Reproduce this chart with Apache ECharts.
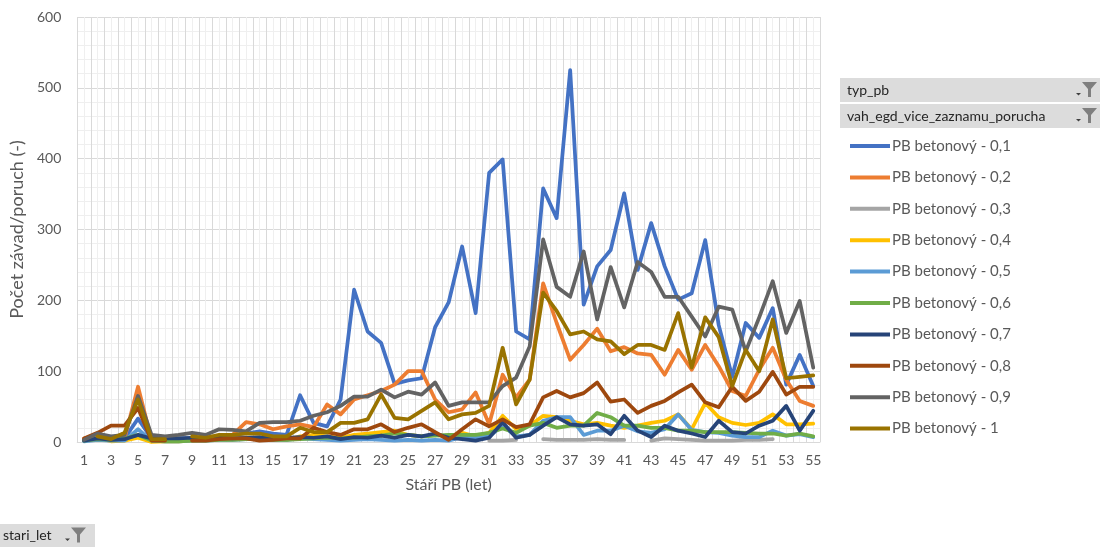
<!DOCTYPE html>
<html>
<head>
<meta charset="utf-8">
<script src="https://cdn.jsdelivr.net/npm/echarts@6/dist/echarts.min.js"></script>
<style>
  html, body { margin: 0; padding: 0; background: #ffffff; }
  #chart { width: 1100px; height: 547px; }
</style>
</head>
<body>
<div id="chart"></div>
<script>
// Stáří PB (let) 1..55
const ages = [];
for (let i = 1; i <= 55; i++) ages.push(String(i));

const seriesNames = [
  'PB betonový - 0,1', 'PB betonový - 0,2', 'PB betonový - 0,3', 'PB betonový - 0,4', 'PB betonový - 0,5',
  'PB betonový - 0,6', 'PB betonový - 0,7', 'PB betonový - 0,8', 'PB betonový - 0,9', 'PB betonový - 1'
];
const seriesColors = ['#4472C4', '#ED7D31', '#A5A5A5', '#FFC000', '#5B9BD5', '#70AD47', '#264478', '#9E480E', '#636363', '#997300'];

const v01 = [3, 8, 5, 5, 33, 5, 4, 5, 5, 6, 8, 10, 12, 15, 12, 10, 66, 27, 22, 60,
  215, 156, 140, 82, 87, 90, 162, 197, 276, 182, 380, 399, 156, 145, 358, 316, 525, 194, 248, 271,
  351, 243, 309, 248, 201, 210, 285, 165, 92, 168, 147, 189, 81, 123, 79];
const v02 = [5, 10, 5, 5, 78, 3, 3, 2, 4, 5, 8, 10, 28, 25, 18, 22, 25, 21, 53, 39,
  60, 66, 72, 81, 100, 100, 60, 42, 46, 70, 25, 95, 63, 88, 224, 168, 116, 137, 160, 128,
  134, 125, 123, 95, 130, 102, 137, 107, 72, 65, 102, 133, 88, 58, 51];
const v03 = [null, null, null, null, null, null, null, null, null, null, null, null, null, null, null, null, null, null, null, null,
  null, null, null, null, null, null, null, null, null, null, 2, 2, 3, null, 4, 3, 3, 3, 4, 3,
  3, null, 2, 5, 4, 3, 2, 2, 2, 3, 3, 4, null, null, null];
const v04 = [2, 6, 1, 2, 6, 0, 1, 1, 2, 3, 4, 5, 5, 6, 4, 3, 8, 10, 8, 6,
  10, 12, 14, 16, 10, 8, 10, 8, 13, 8, 13, 37, 18, 23, 37, 35, 30, 25, 27, 23,
  20, 23, 27, 30, 39, 18, 55, 35, 27, 24, 27, 39, 25, 25, 26];
const v05 = [1, 3, 2, 2, 18, 2, 1, 1, 2, 2, 3, 3, 4, 4, 3, 3, 5, 4, 3, 2,
  3, 4, 3, 2, 3, 2, 3, 2, 7, 6, 8, 23, 8, 10, 30, 35, 35, 10, 16, 16,
  23, 15, 13, 18, 39, 17, 14, 13, 9, 7, 7, 16, 9, 11, 7];
const v06 = [2, 4, 3, 5, 10, 2, 1, 1, 2, 2, 3, 3, 4, 4, 3, 3, 4, 5, 6, 5,
  6, 8, 9, 12, 10, 8, 9, 10, 10, 10, 13, 19, 13, 23, 27, 20, 23, 23, 41, 35,
  23, 23, 20, 20, 16, 16, 14, 14, 14, 13, 12, 12, 9, 12, 8];
const v07 = [2, 5, 3, 4, 10, 5, 5, 5, 6, 5, 6, 5, 6, 7, 5, 6, 7, 6, 8, 4,
  7, 6, 9, 6, 10, 8, 12, 6, 4, 2, 6, 28, 6, 10, 23, 35, 25, 23, 25, 11,
  37, 16, 7, 23, 16, 12, 7, 30, 14, 12, 23, 30, 51, 16, 44];
const v08 = [5, 13, 23, 23, 48, 2, 2, null, 2, 2, 4, 5, 5, 2, 3, 5, 5, 20, 14, 10,
  18, 18, 25, 14, 20, 25, 14, 3, 18, 32, 22, 32, 21, 25, 63, 72, 63, 69, 84, 57,
  60, 41, 51, 58, 70, 81, 56, 49, 78, 58, 71, 99, 67, 78, 78];
const v09 = [3, 12, 8, 10, 65, 10, 8, 10, 13, 10, 18, 17, 15, 27, 28, 28, 30, 37, 42, 51,
  64, 64, 74, 63, 71, 67, 84, 51, 56, 56, 56, 79, 91, 135, 286, 219, 205, 269, 173, 247,
  190, 254, 240, 205, 205, 177, 149, 191, 187, 128, 176, 227, 154, 199, 105];
const v10 = [null, 8, 4, 13, 60, 4, 4, null, 8, 6, 10, 10, 12, 12, 8, 8, 20, 14, 14, 27,
  27, 32, 67, 34, 32, 44, 56, 32, 39, 41, 51, 133, 53, 88, 211, 185, 152, 156, 145, 142,
  124, 137, 137, 130, 182, 105, 176, 148, 79, 130, 100, 173, 90, 92, 94];

const seriesValues = [v01, v02, v03, v04, v05, v06, v07, v08, v09, v10];

const yTicks = { min: 0, max: 600, step: 100 };

const font = 'Lato, "Noto Sans", sans-serif';
const textGrey = '#595959';

// funnel-shaped filter button glyph
function funnel(x, y) {
  return [
    {
      type: 'polygon',
      shape: { points: [[x, y], [x + 15, y], [x + 9, y + 7], [x + 9, y + 15], [x + 6, y + 15], [x + 6, y + 7]] },
      style: { fill: '#7f7f7f' }
    },
    {
      type: 'polygon',
      shape: { points: [[x - 6, y + 11], [x - 1, y + 11], [x - 3.5, y + 13.5]] },
      style: { fill: '#404040' }
    }
  ];
}

function fieldButton(x, y, w, h, label, iconX, textX) {
  return [
    { type: 'rect', shape: { x: x, y: y, width: w, height: h }, style: { fill: '#dcdcdc' } },
    {
      type: 'text', x: textX, y: y + h / 2,
      style: { text: label, font: '14px ' + font, fill: '#262626', verticalAlign: 'middle' }
    }
  ].concat(funnel(iconX, y + h / 2 - 8));
}

const chart = echarts.init(document.getElementById('chart'), null, { renderer: 'canvas' });

const option = {
  animation: false,
  backgroundColor: '#ffffff',
  grid: { left: 75, right: 280, top: 17, bottom: 105, containLabel: false },
  legend: {
    orient: 'vertical',
    left: 845,
    top: 133,
    itemWidth: 40,
    itemHeight: 4,
    itemGap: 15.4,
    icon: 'rect',
    data: seriesNames,
    textStyle: { color: textGrey, fontFamily: font, fontSize: 15, lineHeight: 16, padding: [0, 0, 0, -3] }
  },
  xAxis: [
    {
      type: 'category',
      data: ages,
      boundaryGap: true,
      axisLine: { show: true, lineStyle: { color: '#d9d9d9', width: 1 } },
      axisTick: { show: false },
      axisLabel: { interval: 1, color: textGrey, fontFamily: font, fontSize: 14, margin: 11 },
      splitLine: { show: false },
      name: 'Stáří PB (let)',
      nameLocation: 'middle',
      nameGap: 35,
      nameTextStyle: { color: textGrey, fontFamily: font, fontSize: 16 }
    },
    {
      // vertical gridlines: category boundaries and centres
      type: 'value',
      min: 0,
      max: 55,
      interval: 1,
      position: 'bottom',
      axisLine: { show: false },
      axisTick: { show: false },
      axisLabel: { show: false },
      minorTick: { show: false, splitNumber: 2 },
      splitLine: { show: true, lineStyle: { color: '#d9d9d9', width: 1 } },
      minorSplitLine: { show: true, lineStyle: { color: '#efefef', width: 1 } },
      z: 0
    }
  ],
  yAxis: {
    type: 'value',
    min: yTicks.min,
    max: yTicks.max,
    interval: yTicks.step,
    axisLine: { show: false },
    axisTick: { show: false },
    axisLabel: { color: textGrey, fontFamily: font, fontSize: 14, margin: 16 },
    minorTick: { show: false, splitNumber: 5 },
    splitLine: { show: true, lineStyle: { color: '#d9d9d9', width: 1 } },
    minorSplitLine: { show: true, lineStyle: { color: '#efefef', width: 1 } },
    name: 'Počet závad/poruch (-)',
    nameLocation: 'middle',
    nameGap: 49,
    nameTextStyle: { color: textGrey, fontFamily: font, fontSize: 18 }
  },
  series: seriesNames.map((name, i) => ({
    name: name,
    type: 'line',
    xAxisIndex: 0,
    data: seriesValues[i],
    symbol: 'none',
    showSymbol: false,
    connectNulls: false,
    lineStyle: { width: 3.75, color: seriesColors[i], cap: 'round', join: 'round' },
    itemStyle: { color: seriesColors[i] },
    emphasis: { disabled: true }
  })),
  graphic: [].concat(
    fieldButton(840, 78, 260, 24, 'typ_pb', 1082, 847),
    fieldButton(840, 104, 260, 24, 'vah_egd_vice_zaznamu_porucha', 1082, 847),
    fieldButton(0, 524, 95, 23, 'stari_let', 71, 3)
  )
};

chart.setOption(option);
</script>
</body>
</html>
